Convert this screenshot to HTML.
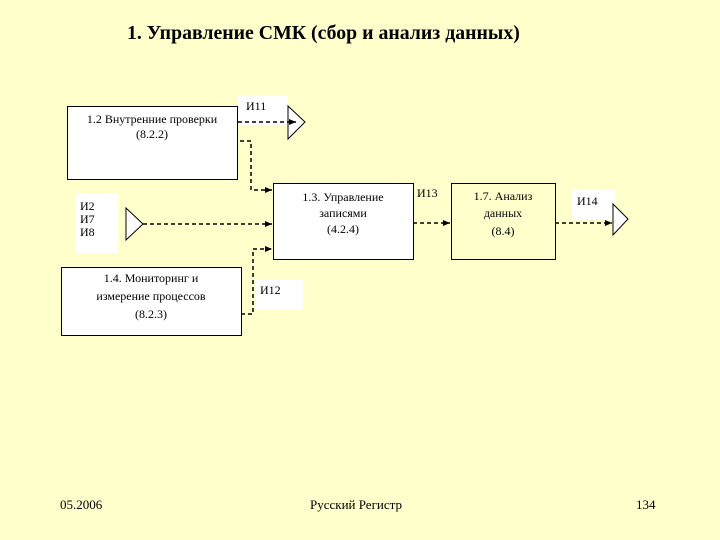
<!DOCTYPE html>
<html><head><meta charset="utf-8"><style>
body{margin:0;width:720px;height:540px;background:#ffffcc;position:relative;overflow:hidden;font-family:"Liberation Serif","DejaVu Serif",serif;}
.t{position:absolute;white-space:nowrap;}
</style></head><body>
<div class="t" style="left:127px;top:22px;font-size:19.8px;font-weight:bold;">1. Управление СМК (сбор и анализ данных)</div>
<svg width="720" height="540" style="position:absolute;left:0;top:0" font-family="Liberation Serif, serif" font-size="12">
<defs><marker id="a" markerWidth="8" markerHeight="8" refX="7" refY="4" orient="auto" markerUnits="userSpaceOnUse"><path d="M0,1 L7,4 L0,7 z" fill="#000"/></marker></defs>
<rect x="238" y="96" width="50" height="29" fill="#fff"/>
<rect x="75" y="193" width="43" height="60" fill="#fff"/>
<rect x="255" y="280" width="48" height="30" fill="#fff"/>
<rect x="572" y="190" width="43" height="30" fill="#fff"/>
<rect x="67.5" y="106.5" width="170" height="73" fill="#fff" stroke="#000"/>
<rect x="273.5" y="183.5" width="140" height="76" fill="#fff" stroke="#000"/>
<rect x="61.5" y="267.5" width="180" height="68" fill="#fff" stroke="#000"/>
<rect x="451.5" y="183.5" width="104" height="76" fill="none" stroke="#000"/>
<path d="M288,106 L305,122 L288,139 z" fill="#fff" stroke="#000"/>
<path d="M126,208 L143,224 L126,240 z" fill="#fff" stroke="#000"/>
<path d="M613,204 L628,219 L613,235 z" fill="#fff" stroke="#000"/>
<g stroke="#000" stroke-width="1.5" stroke-dasharray="4,3" fill="none" marker-end="url(#a)">
<path d="M238,122 H296"/>
<path d="M240,141 H251 V190 H272"/>
<path d="M143,224 H272"/>
<path d="M241,314 H253 V249 H272"/>
<path d="M413,223 H450"/>
<path d="M555,223 H612"/>
</g>
<g text-anchor="middle">
<text x="152" y="123">1.2 Внутренние проверки</text>
<text x="152" y="138">(8.2.2)</text>
<text x="343" y="201">1.3. Управление</text>
<text x="343" y="217">записями</text>
<text x="343" y="233">(4.2.4)</text>
<text x="151" y="282">1.4. Мониторинг и</text>
<text x="151" y="300">измерение процессов</text>
<text x="151" y="318">(8.2.3)</text>
<text x="503" y="200">1.7. Анализ</text>
<text x="503" y="217">данных</text>
<text x="503" y="235">(8.4)</text>
</g>
<text x="246" y="110">И11</text>
<text x="80" y="210">И2</text>
<text x="80" y="223">И7</text>
<text x="80" y="236">И8</text>
<text x="260" y="294">И12</text>
<text x="417" y="197">И13</text>
<text x="577" y="205">И14</text>
<text x="60" y="509" font-size="13">05.2006</text>
<text x="310" y="509" font-size="13">Русский Регистр</text>
<text x="636" y="509" font-size="13">134</text>
</svg>
</body></html>
